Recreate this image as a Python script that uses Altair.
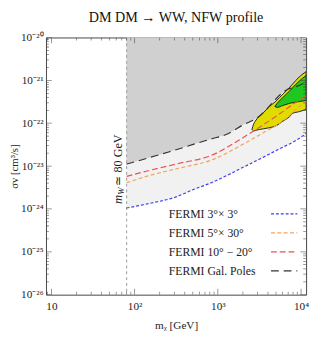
import altair as alt
import pandas as pd

# ---------------- data ----------------
blue_m = [80, 160, 300, 500, 835, 2040, 5000, 10400, 11500]
blue_sv = [1.05e-24, 1.38e-24, 1.85e-24, 2.8e-24, 4.1e-24, 9.5e-24, 2.3e-23, 5.0e-23, 5.8e-23]

orange_m = [80, 138, 338, 835, 2040, 3520, 6050, 9080, 11500]
orange_sv = [4.1e-24, 5.75e-24, 8.9e-24, 1.38e-23, 3.3e-23, 6.0e-23, 1.12e-22, 2.24e-22, 3.2e-22]

red_m = [80, 138, 338, 835, 2040, 2690, 5010, 8500, 11500]
red_sv = [5.75e-24, 7.6e-24, 1.15e-23, 1.78e-23, 4.7e-23, 6.6e-23, 1.45e-22, 3.0e-22, 4.3e-22]

black_m = [80, 138, 218, 338, 530, 835, 1300, 2040, 2900, 6600, 10400, 11500]
black_sv = [1.11e-23, 1.5e-23, 1.95e-23, 2.5e-23, 3.3e-23, 4.3e-23, 5.6e-23, 9.3e-23, 1.29e-22, 5.9e-22, 8.3e-22, 9.5e-22]

yellow_m = [2570, 2690, 2820, 3520, 4220, 5010, 6050, 7250, 7920, 9500, 11500]
yellow_hi = [7.2e-23, 9.5e-23, 1.12e-22, 1.75e-22, 2.5e-22, 3.3e-22, 4.8e-22, 6.8e-22, 8.2e-22, 1.2e-21, 1.6e-21]
yellow_lo = [7.2e-23, 6.6e-23, 6.8e-23, 7.4e-23, 7.9e-23, 8.7e-23, 1.12e-22, 1.41e-22, 1.7e-22, 1.86e-22, 2.1e-22]

green_m = [4840, 5200, 6050, 7250, 8500, 9500, 11500]
green_hi = [2.45e-22, 2.95e-22, 4.0e-22, 5.6e-22, 7.8e-22, 9.6e-22, 1.3e-21]
green_lo = [2.45e-22, 2.35e-22, 2.6e-22, 2.9e-22, 3.1e-22, 3.2e-22, 3.4e-22]

sv_top = 1e-20
mw = [80]

series_names = ["FERMI 3°× 3°", "FERMI 5°× 30°", "FERMI 10° − 20°", "FERMI Gal. Poles"]

x_major = [10, 100, 1000, 10000]
x_minor = [9, 20, 30, 40, 50, 60, 70, 80, 90, 200, 300, 400, 500, 600, 700, 800, 900,
           2000, 3000, 4000, 5000, 6000, 7000, 8000, 9000]
y_major = [1e-26, 1e-25, 1e-24, 1e-23, 1e-22, 1e-21, 1e-20]
y_minor = [k * 10.0 ** e for e in range(-26, -20) for k in range(2, 10)]

# ---------------- style ----------------
W, H = 267, 264
FONT = "Liberation Serif"
xscale = alt.Scale(type="log", domain=[8.6, 11500])
yscale = alt.Scale(type="log", domain=[1e-26, 1e-20])

sup = "['⁰','¹','²','³','⁴','⁵','⁶']"
x_axis = alt.Axis(values=x_major, ticks=False, domain=False, grid=False,
                  labelExpr="datum.value == 10 ? '10' : datum.value == 100 ? '10²' : datum.value == 1000 ? '10³' : '10⁴'",
                  labelFont=FONT, labelFontSize=11.5, labelPadding=6, labelColor="#222",
                  title="mᵪ  [GeV]", titleFont=FONT, titleFontSize=11.5, titleFontWeight="normal",
                  titlePadding=8, titleColor="#222")
y_axis = alt.Axis(values=y_major, ticks=False, domain=False, grid=False,
                  labelExpr="'10⁻²' + " + sup + "[-round(log(datum.value)/LN10) - 20]",
                  labelFont=FONT, labelFontSize=11.5, labelPadding=3, labelColor="#222",
                  title="σv  [cm³/s]", titleFont=FONT, titleFontSize=11, titleFontWeight="normal",
                  titlePadding=1, titleColor="#222")

X = alt.X("m:Q", scale=xscale, axis=x_axis)
Y = alt.Y("sv:Q", scale=yscale, axis=y_axis)


def df(m, sv, sv2=None):
    d = {"m": m, "sv": sv}
    if sv2 is not None:
        d["sv2"] = sv2
    return pd.DataFrame(d)


layers = []
# light band (blue line up to top) and dark region (black line up to top)
layers.append(alt.Chart(df(blue_m, blue_sv, [sv_top] * len(blue_m))).mark_area(
    color="#f1f1f1", clip=True, interpolate="monotone").encode(x=X, y=Y, y2="sv2:Q"))
layers.append(alt.Chart(df(black_m, black_sv, [sv_top] * len(black_m))).mark_area(
    color="#d0d0d0", clip=True, interpolate="monotone").encode(x=X, y=Y, y2="sv2:Q"))
# fit regions
layers.append(alt.Chart(df(yellow_m, yellow_hi, yellow_lo)).mark_area(
    color="#e0dc00", stroke="#222", strokeWidth=1, clip=True, interpolate="monotone").encode(x=X, y=Y, y2="sv2:Q"))
layers.append(alt.Chart(df(green_m, green_hi, green_lo)).mark_area(
    color="#1ec81e", stroke="#222", strokeWidth=1, clip=True, interpolate="monotone").encode(x=X, y=Y, y2="sv2:Q"))

# m_W line
layers.append(alt.Chart(pd.DataFrame({"m": mw})).mark_rule(
    color="#aaaaaa", strokeDash=[3, 3], strokeWidth=1.2).encode(x=X))

series = [
    (blue_m, blue_sv, "#3d3df5", [3, 2]),
    (orange_m, orange_sv, "#f3a45a", [4, 2.5]),
    (red_m, red_sv, "#ef5050", [6, 3]),
    (black_m, black_sv, "#333333", [8, 5]),
]
leg_y = [181, 200.5, 220, 239.5]
for (m, sv, col, dash), name, ly in zip(series, series_names, leg_y):
    layers.append(alt.Chart(df(m, sv)).mark_line(
        color=col, strokeDash=dash, strokeWidth=1.2, clip=True, interpolate="monotone").encode(x=X, y=Y))
    layers.append(alt.Chart(pd.DataFrame({"t": [name]})).mark_text(
        font=FONT, fontSize=12, align="left", baseline="middle", color="#222").encode(
        x=alt.value(126), y=alt.value(ly), text="t:N"))
    layers.append(alt.Chart(pd.DataFrame({"t": [name]})).mark_rule(
        color=col, strokeDash=dash, strokeWidth=1.2).encode(
        x=alt.value(231), x2=alt.value(258), y=alt.value(ly)))

# m_W annotation (rotated)
ann = pd.DataFrame({"m": [63], "sv": [1.3e-24]})
for txt, size, style, dx, dy in [("m", 13, "italic", 0, 0), ("W", 9, "italic", 9.5, 3),
                                  ("≃ 80 GeV", 12.5, "normal", 19, 0)]:
    layers.append(alt.Chart(ann).mark_text(
        text=txt, font=FONT, fontSize=size, fontStyle=style, angle=270, align="left",
        baseline="middle", dx=dx, dy=dy, color="#222").encode(x=X, y=Y))

# inward frame ticks
for vals, L in [(x_major, 6), (x_minor, 3)]:
    d = pd.DataFrame({"m": vals})
    for yy in (H - L / 2, L / 2):
        layers.append(alt.Chart(d).mark_tick(orient="vertical", size=L, thickness=0.8,
                                             color="#444", clip=True).encode(x=X, y=alt.value(yy)))
for vals, L in [(y_major, 6), (y_minor, 3)]:
    d = pd.DataFrame({"sv": vals})
    for xx in (L / 2, W - L / 2):
        layers.append(alt.Chart(d).mark_tick(orient="horizontal", size=L, thickness=0.8,
                                             color="#444", clip=True).encode(y=Y, x=alt.value(xx)))

chart = alt.layer(*layers).properties(
    width=W, height=H,
    title=alt.TitleParams("DM DM → WW,  NFW profile", font=FONT, fontSize=14.5,
                          fontWeight="normal", anchor="middle", offset=6, color="#111"),
    autosize=alt.AutoSizeParams(type="none"),
    padding={"left": 39, "top": 26, "right": 4, "bottom": 33},
).configure_view(stroke="#444", strokeWidth=1)

chart.save("out.html", embed_options={"renderer": "svg", "actions": False})
